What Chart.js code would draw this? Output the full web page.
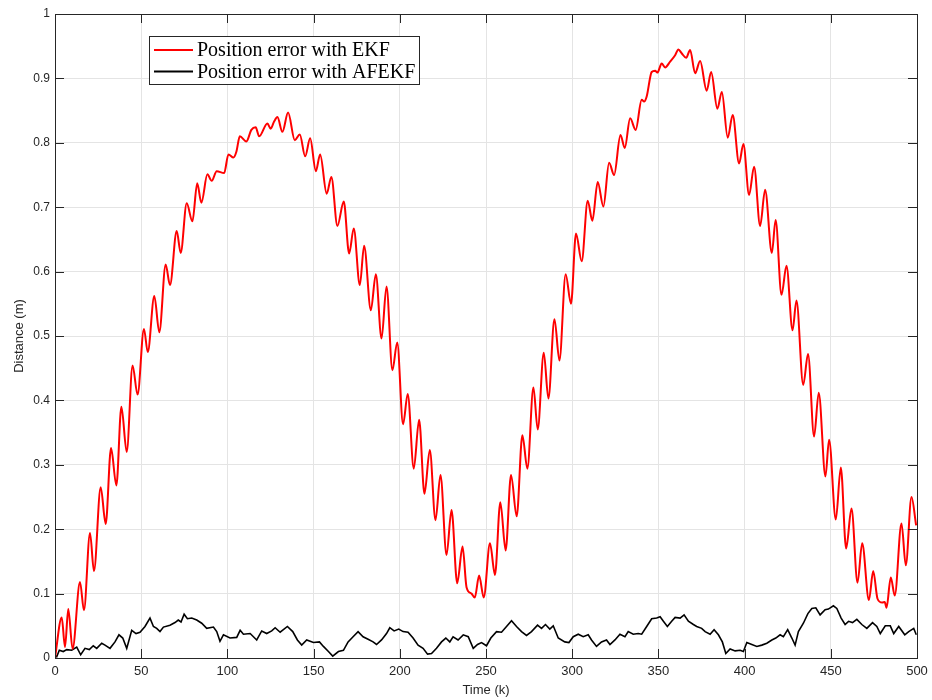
<!DOCTYPE html>
<html>
<head>
<meta charset="utf-8">
<script src="https://cdn.jsdelivr.net/npm/chart.js@4.4.1/dist/chart.umd.min.js"></script>
<style>
  html, body { margin: 0; padding: 0; background: #fff; }
</style>
</head>
<body>
<canvas id="chartErr" width="932" height="700"></canvas>
<script>
/* Position error of EKF vs AFEKF over time */

/* EKF error: time step (k) and distance (m), read at peaks / troughs */
var ekfK = [0, 3.9, 5.8, 7.7, 10.2, 14.5, 16.8, 20.3, 22.6, 26.5, 29.4, 32.5, 35.6, 38.5, 41.6, 45.0, 47.9,
  51.6, 53.8, 57.6, 60.5, 64.2, 66.7, 70.6, 72.9, 76.4, 79.7, 82.5, 84.9, 88.4, 90.9, 93.8, 98.1,
  100.6, 103.5, 105.2, 107.2, 111.0, 113.9, 116.4, 118.4, 123.2, 125.1, 127.1, 129.0, 131.9, 135.2,
  139.1, 142.0, 145.1, 148.0, 151.3, 153.8, 157.6, 160.3, 163.8, 167.5, 170.6, 173.3, 176.8, 179.3,
  183.2, 186.1, 189.4, 192.3, 195.7, 198.5, 201.9, 204.6, 208.1, 211.2, 214.3, 217.4, 220.7, 223.6,
  227.1, 230.0, 233.3, 236.4, 238.7, 241.6, 243.5, 246.0, 248.7, 252.3, 255.2, 258.3, 261.4, 264.5,
  267.8, 271.1, 274.0, 277.5, 280.0, 283.5, 286.2, 289.7, 292.6, 296.2, 299.3, 302.2, 305.5, 309.0,
  311.7, 314.8, 318.1, 321.4, 324.3, 328.0, 330.5, 333.6, 336.8, 340.3, 341.7, 343.2, 346.1, 348.1,
  349.4, 351.9, 353.9, 356.8, 359.7, 361.6, 363.5, 366.1, 368.4, 371.3, 374.2, 378.0, 380.6, 384.2,
  386.8, 390.2, 393.1, 396.8, 399.3, 402.6, 405.5, 409.0, 411.9, 415.8, 418.0, 421.4, 424.3, 427.8,
  430.1, 434.0, 436.8, 440.3, 443.0, 446.9, 449.0, 452.9, 455.8, 458.9, 462.0, 465.5, 468.2, 472.1,
  474.6, 477.1, 479.8, 481.3, 482.3, 484.8, 487.1, 491.0, 493.5, 496.8, 499.5];
var ekfErr = [0, 0.063, 0.017, 0.076, 0.014, 0.118, 0.074, 0.194, 0.135, 0.265, 0.208, 0.326, 0.268, 0.390, 0.320, 0.454, 0.409,
  0.511, 0.475, 0.562, 0.506, 0.611, 0.579, 0.663, 0.629, 0.706, 0.678, 0.737, 0.707, 0.751, 0.741, 0.756, 0.753,
  0.782, 0.777, 0.786, 0.810, 0.802, 0.820, 0.824, 0.810, 0.830, 0.822, 0.833, 0.840, 0.817, 0.847,
  0.804, 0.813, 0.779, 0.807, 0.756, 0.782, 0.721, 0.747, 0.671, 0.709, 0.628, 0.667, 0.579, 0.640,
  0.540, 0.596, 0.496, 0.577, 0.447, 0.490, 0.363, 0.410, 0.294, 0.370, 0.255, 0.323, 0.214, 0.284,
  0.160, 0.230, 0.116, 0.173, 0.110, 0.100, 0.094, 0.128, 0.094, 0.178, 0.129, 0.242, 0.167, 0.284,
  0.220, 0.346, 0.294, 0.420, 0.355, 0.474, 0.403, 0.526, 0.462, 0.596, 0.550, 0.659, 0.616, 0.710,
  0.679, 0.739, 0.701, 0.769, 0.750, 0.812, 0.792, 0.838, 0.820, 0.867, 0.864, 0.872, 0.910, 0.912,
  0.909, 0.923, 0.917, 0.926, 0.936, 0.945, 0.939, 0.932, 0.944, 0.908, 0.927, 0.881, 0.910, 0.853,
  0.879, 0.808, 0.843, 0.768, 0.798, 0.719, 0.763, 0.671, 0.727, 0.629, 0.680, 0.564, 0.609, 0.509,
  0.555, 0.424, 0.472, 0.344, 0.412, 0.282, 0.339, 0.215, 0.296, 0.170, 0.232, 0.117, 0.178, 0.090,
  0.135, 0.092, 0.086, 0.087, 0.078, 0.125, 0.097, 0.209, 0.144, 0.250, 0.206];

/* AFEKF error */
var afekfK = [0, 1.0, 2.5, 4.8, 6.8, 9.7, 12.6, 14.9, 17.4, 19.9, 22.2, 24.2, 27.1, 29.0, 31.9, 34.8, 37.1, 39.3,
  41.6, 44.5, 47.0, 49.3, 52.2, 55.1, 57.1, 59.0, 60.9, 62.9, 66.7, 69.6, 71.5, 73.1, 74.9, 76.8, 79.3,
  82.2, 85.1, 88.0, 91.9, 93.8, 95.7, 97.7, 101.5, 105.4, 107.4, 109.3, 113.2, 117.0, 119.9, 122.8, 125.7,
  127.7, 130.6, 134.8, 137.9, 140.6, 143.1, 146.0, 149.9, 153.4, 155.7, 158.6, 161.1, 164.4, 167.3, 170.0,
  172.9, 175.8, 178.7, 181.6, 184.5, 186.5, 189.4, 192.3, 194.2, 196.7, 199.4, 201.9, 204.8, 207.7, 210.6,
  213.5, 216.1, 218.4, 221.3, 224.2, 226.7, 229.0, 230.9, 233.8, 236.8, 239.7, 242.6, 245.1, 247.4, 250.3,
  252.8, 256.1, 259.0, 261.9, 264.8, 267.7, 270.6, 273.5, 276.4, 279.9, 282.2, 284.5, 287.0, 289.0, 291.9,
  295.7, 298.1, 300.6, 303.5, 306.4, 309.3, 311.2, 314.1, 317.0, 319.9, 321.9, 324.8, 327.7, 330.6, 332.5,
  335.4, 338.3, 340.3, 343.2, 346.1, 349.0, 351.0, 352.9, 355.2, 357.7, 359.7, 362.6, 364.9, 367.4, 370.3,
  372.2, 375.1, 377.1, 380.0, 382.3, 384.8, 387.1, 389.1, 391.6, 394.5, 397.4, 399.3, 401.3, 404.2, 407.1,
  410.0, 412.9, 415.8, 418.1, 420.6, 422.5, 425.0, 427.4, 429.3, 431.2, 434.1, 436.7, 439.0, 441.3, 443.8,
  446.7, 448.6, 451.5, 453.5, 456.0, 458.3, 460.3, 462.6, 465.1, 468.0, 470.9, 474.2, 476.7, 478.7, 481.6,
  484.5, 486.5, 489.4, 492.9, 495.2, 498.1, 499.6];
var afekfErr = [0.004, 0.002, 0.012, 0.010, 0.013, 0.012, 0.017, 0.005, 0.015, 0.013, 0.019, 0.015, 0.023, 0.020, 0.015, 0.025, 0.036, 0.031,
  0.015, 0.043, 0.038, 0.040, 0.049, 0.062, 0.049, 0.046, 0.041, 0.048, 0.051, 0.055, 0.059, 0.056, 0.068, 0.061, 0.062,
  0.059, 0.054, 0.046, 0.048, 0.041, 0.026, 0.036, 0.031, 0.032, 0.043, 0.037, 0.038, 0.028, 0.042, 0.038, 0.042,
  0.047, 0.040, 0.049, 0.041, 0.028, 0.020, 0.028, 0.024, 0.025, 0.018, 0.010, 0.003, 0.010, 0.012, 0.025,
  0.033, 0.041, 0.033, 0.029, 0.025, 0.021, 0.028, 0.038, 0.047, 0.042, 0.045, 0.041, 0.040, 0.031, 0.020,
  0.015, 0.006, 0.007, 0.015, 0.025, 0.031, 0.025, 0.033, 0.028, 0.036, 0.033, 0.015, 0.021, 0.024, 0.019,
  0.031, 0.041, 0.040, 0.049, 0.058, 0.049, 0.041, 0.035, 0.041, 0.051, 0.046, 0.052, 0.045, 0.050, 0.031,
  0.025, 0.024, 0.033, 0.037, 0.033, 0.036, 0.028, 0.018, 0.025, 0.028, 0.021, 0.028, 0.037, 0.033, 0.041,
  0.037, 0.038, 0.037, 0.049, 0.061, 0.062, 0.064, 0.057, 0.049, 0.057, 0.063, 0.062, 0.067, 0.057, 0.052,
  0.049, 0.046, 0.041, 0.037, 0.044, 0.036, 0.025, 0.007, 0.014, 0.011, 0.012, 0.010, 0.024, 0.021, 0.018,
  0.020, 0.023, 0.028, 0.031, 0.036, 0.033, 0.044, 0.031, 0.020, 0.041, 0.054, 0.069, 0.077, 0.078, 0.067,
  0.075, 0.076, 0.081, 0.077, 0.062, 0.052, 0.057, 0.055, 0.060, 0.052, 0.046, 0.055, 0.049, 0.038, 0.050,
  0.050, 0.038, 0.049, 0.036, 0.041, 0.046, 0.036];

var xTicks = [0, 500, 50];   /* min, max, step */
var yTicks = [0, 1, 0.1];

var seriesNames = ['Position error with EKF', 'Position error with AFEKF'];
var seriesColors = ['#ff0000', '#000000'];

function pairs(xs, ys) {
  var out = [];
  for (var i = 0; i < xs.length; i++) out.push({ x: xs[i], y: ys[i] });
  return out;
}

var AXIS = '#262626';
var yTickFont = { family: 'Liberation Sans, Arial, sans-serif', size: 12 };
var xTickFont = { family: 'Liberation Sans, Arial, sans-serif', size: 13 };
var titleFont = { family: 'Liberation Sans, Arial, sans-serif', size: 13 };

/* MATLAB style box with inward ticks on all four sides */
var boxTicks = {
  id: 'boxTicks',
  afterDraw: function (chart) {
    var ctx = chart.ctx, a = chart.chartArea;
    var xs = chart.scales.x, ys = chart.scales.y;
    var len = 9;
    ctx.save();
    ctx.strokeStyle = AXIS;
    ctx.lineWidth = 1;
    ctx.beginPath();
    xs.ticks.forEach(function (t) {
      var px = Math.round(xs.getPixelForValue(t.value)) + 0.5;
      ctx.moveTo(px, a.bottom); ctx.lineTo(px, a.bottom - len);
      ctx.moveTo(px, a.top); ctx.lineTo(px, a.top + len);
    });
    ys.ticks.forEach(function (t) {
      var py = Math.round(ys.getPixelForValue(t.value)) + 0.5;
      ctx.moveTo(a.left, py); ctx.lineTo(a.left + len, py);
      ctx.moveTo(a.right, py); ctx.lineTo(a.right - len, py);
    });
    ctx.stroke();
    ctx.strokeRect(Math.round(a.left) + 0.5, Math.round(a.top) + 0.5, Math.round(a.right - a.left), Math.round(a.bottom - a.top));
    ctx.restore();
  }
};

/* Boxed legend in the upper left, serif text like the original */
var boxLegend = {
  id: 'boxLegend',
  afterDraw: function (chart) {
    var ctx = chart.ctx;
    var x0 = 149.5, y0 = 36.5, w = 270, h = 48;
    ctx.save();
    ctx.fillStyle = '#fff';
    ctx.fillRect(x0, y0, w, h);
    ctx.strokeStyle = AXIS;
    ctx.lineWidth = 1;
    ctx.strokeRect(x0, y0, w, h);
    ctx.font = '20px "Liberation Serif", "DejaVu Serif", serif';
    ctx.textBaseline = 'middle';
    chart.data.datasets.forEach(function (ds, i) {
      var yy = 50 + i * 21.5;
      ctx.strokeStyle = ds.borderColor;
      ctx.lineWidth = 2;
      ctx.beginPath();
      ctx.moveTo(154, yy); ctx.lineTo(193, yy);
      ctx.stroke();
      ctx.fillStyle = '#000';
      ctx.fillText(ds.label, 197, yy + 1);
    });
    ctx.restore();
  }
};

new Chart(document.getElementById('chartErr'), {
  type: 'line',
  data: {
    datasets: [
      { label: seriesNames[0], data: pairs(ekfK, ekfErr), borderColor: seriesColors[0], borderWidth: 2,
        pointRadius: 0, cubicInterpolationMode: 'monotone', fill: false },
      { label: seriesNames[1], data: pairs(afekfK, afekfErr), borderColor: seriesColors[1], borderWidth: 1.6,
        pointRadius: 0, tension: 0, fill: false }
    ]
  },
  options: {
    responsive: false,
    animation: false,
    layout: { padding: { top: 14, right: 15, left: 0, bottom: 0 } },
    plugins: { legend: { display: false }, tooltip: { enabled: false } },
    scales: {
      x: {
        type: 'linear', min: xTicks[0], max: xTicks[1],
        afterFit: function (s) { s.height = 42; s.paddingLeft = 0; s.paddingRight = 0; },
        ticks: { stepSize: xTicks[2], padding: 6, maxRotation: 0, autoSkip: false, color: AXIS, font: xTickFont },
        grid: { color: '#e4e4e4', drawTicks: false },
        border: { display: false },
        title: { display: true, text: 'Time (k)', color: AXIS, font: titleFont, padding: { top: 0, bottom: 2 } }
      },
      y: {
        type: 'linear', min: yTicks[0], max: yTicks[1],
        afterFit: function (s) { s.width = 55; s.paddingTop = 0; s.paddingBottom = 0; },
        ticks: { stepSize: yTicks[2], padding: 5, color: AXIS, font: yTickFont,
          callback: function (v) { return String(Math.round(v * 10) / 10); } },
        grid: { color: '#e4e4e4', drawTicks: false },
        border: { display: false },
        title: { display: true, text: 'Distance (m)', color: AXIS, font: titleFont, padding: { top: 12, bottom: 0 } }
      }
    }
  },
  plugins: [boxTicks, boxLegend]
});
</script>
</body>
</html>
